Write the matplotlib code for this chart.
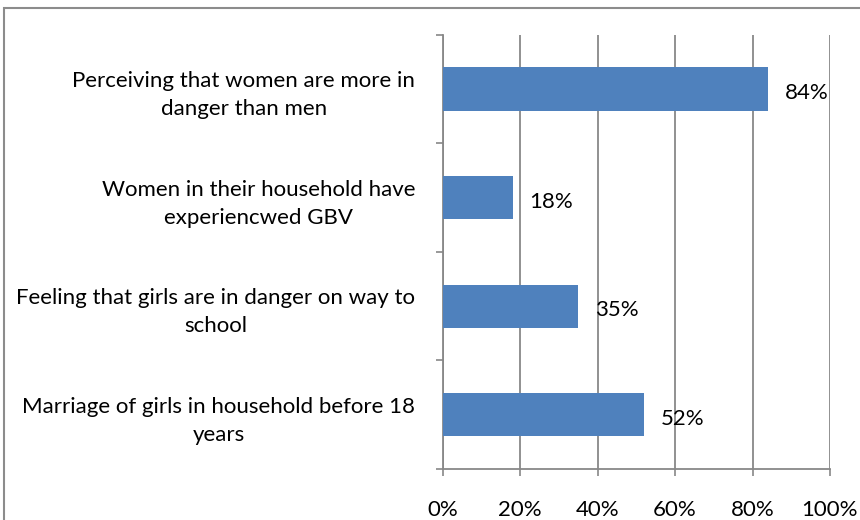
import matplotlib.pyplot as plt
import matplotlib.patches as patches
import numpy as np

categories = [
    'Marriage of girls in household before 18\nyears',
    'Feeling that girls are in danger on way to\nschool',
    'Women in their household have\nexperiencwed GBV',
    'Perceiving that women are more in\ndanger than men',
]
values = [52, 35, 18, 84]
xticks = [0, 20, 40, 60, 80, 100]

plt.rcParams['font.family'] = ['Lato', 'DejaVu Sans']

fig = plt.figure(figsize=(8.6, 5.2), dpi=100)
ax = fig.add_axes([0.515, 0.098, 0.45, 0.835])

grid_col = '#888888'
bar_col = '#4f81bd'
fs = 16

y = np.arange(len(categories))
ax.barh(y, values, height=0.4, color=bar_col, zorder=3)

for yi, v in zip(y, values):
    ax.annotate(f'{v}%', (v, yi), xytext=(12, -3), textcoords='offset points',
                ha='left', va='center', fontsize=fs, color='black', zorder=4)

ax.set_xlim(0, 100)
ax.set_ylim(-0.5, len(categories) - 0.5)
ax.set_xticks(xticks)
ax.set_xticklabels([f'{t}%' for t in xticks], fontsize=fs)
ax.set_yticks(y)
ax.set_yticklabels(categories, fontsize=fs)
for lbl in ax.get_yticklabels():
    lbl.set_multialignment('center')
    lbl.set_linespacing(1.5)
ax.set_yticks(np.arange(len(categories) + 1) - 0.5, minor=True)

ax.tick_params(axis='y', which='major', length=0, pad=20)
ax.tick_params(axis='y', which='minor', length=5, color=grid_col, width=1.2)
ax.tick_params(axis='x', length=5, color=grid_col, width=1.2, pad=17)

ax.grid(axis='x', color=grid_col, linewidth=1.3, zorder=0)
for side in ['top', 'right']:
    ax.spines[side].set_visible(False)
for side in ['left', 'bottom']:
    ax.spines[side].set_color(grid_col)
    ax.spines[side].set_linewidth(1.3)

# outer frame of the chart area, cut by the right and bottom edges
frame = patches.Rectangle((4 / 860, -0.1), 1.2, 1.1 - 8 / 520,
                          transform=fig.transFigure, fill=False,
                          edgecolor='#8c8c8c', linewidth=1.5)
fig.patches.append(frame)

fig.savefig('out.png', dpi=100)
